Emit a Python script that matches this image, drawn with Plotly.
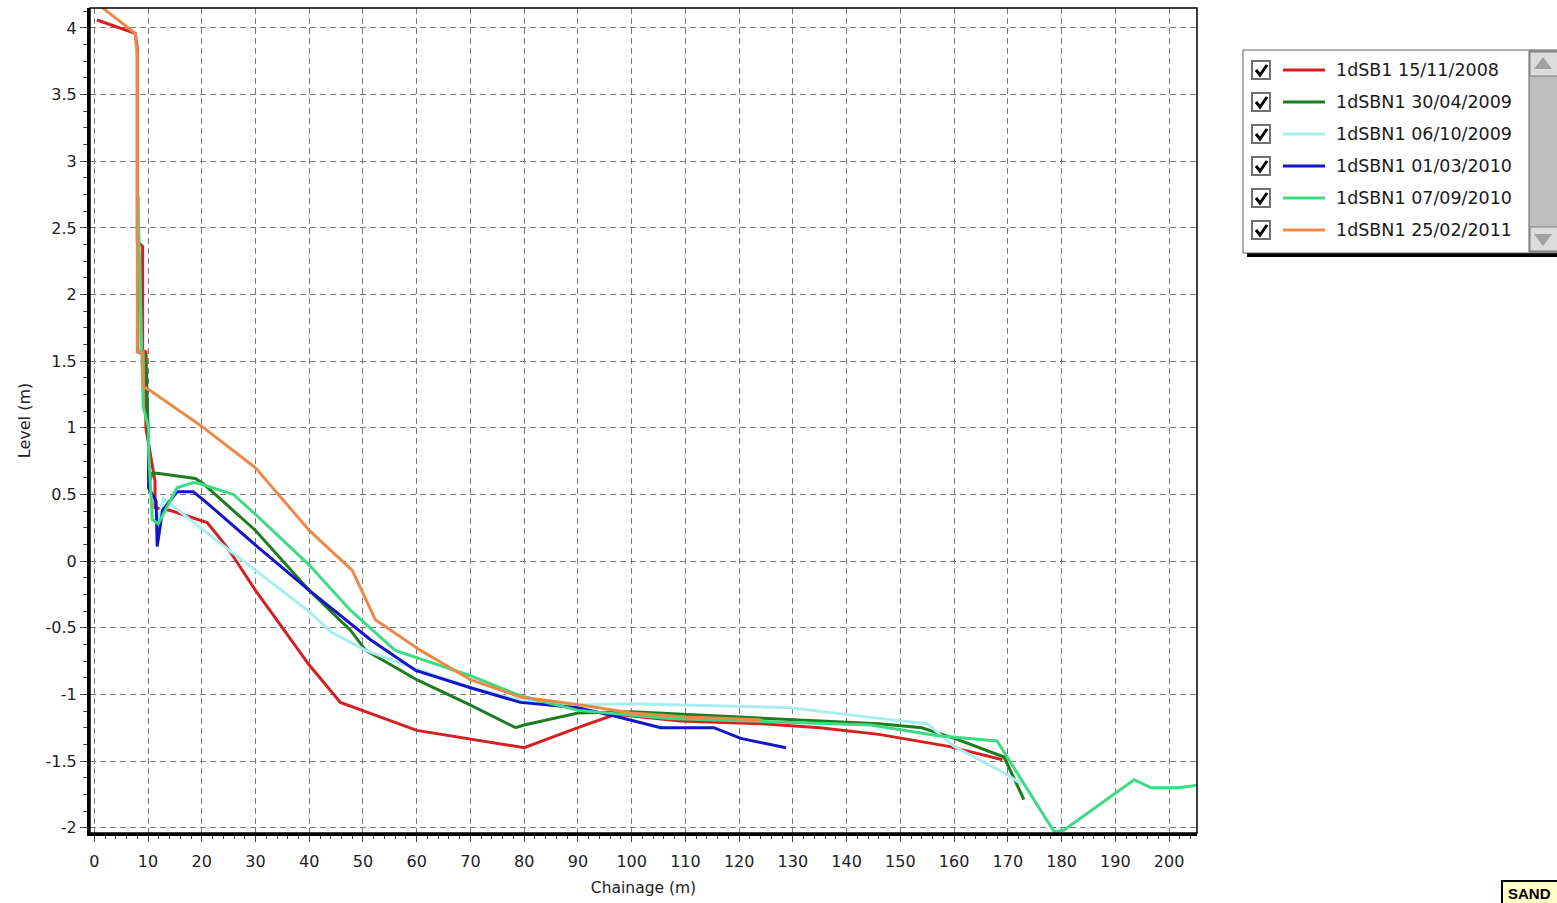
import plotly.graph_objects as go

# ---------------- data ----------------
series_names = ["1dSB1 15/11/2008", "1dSBN1 30/04/2009", "1dSBN1 06/10/2009",
                "1dSBN1 01/03/2010", "1dSBN1 07/09/2010", "1dSBN1 25/02/2011"]
series_colors = ["#d42020", "#1e7d1e", "#a8eeee", "#1414c8", "#3ddc84", "#ee8848"]

red_x = [0.5, 7.6, 8.0, 8.0, 9.0, 9.0, 9.6, 9.6, 11.3, 11.3, 14.2, 21.0, 24.8, 30.0, 40.0, 45.8, 60.0,
         80.0, 90.0, 97.0, 109.0, 124.0, 135.0, 146.0, 159.0, 169.0]
red_y = [4.06, 3.96, 3.85, 2.40, 2.36, 1.58, 1.57, 1.00, 0.60, 0.40, 0.38, 0.29, 0.10, -0.22, -0.78,
         -1.06, -1.27, -1.40, -1.25, -1.15, -1.20, -1.22, -1.25, -1.30, -1.39, -1.49]

dg_x = [8.1, 8.1, 9.6, 10.3, 10.8, 11.7, 18.8, 20.3, 30.0, 40.0, 47.7, 50.5, 60.0, 70.0, 78.4, 80.0,
        90.0, 100.0, 120.0, 146.0, 154.0, 160.7, 169.3, 173.0]
dg_y = [2.75, 1.57, 1.55, 0.60, 0.66, 0.66, 0.62, 0.58, 0.23, -0.22, -0.52, -0.67, -0.89, -1.08, -1.25,
        -1.23, -1.14, -1.13, -1.17, -1.22, -1.25, -1.34, -1.47, -1.79]

cy_x = [11.8, 12.9, 21.0, 30.0, 40.0, 44.0, 50.5, 60.7, 70.0, 79.0, 90.0, 100.0, 129.6, 146.0, 155.0,
        160.0, 169.3, 172.5]
cy_y = [0.30, 0.47, 0.21, -0.07, -0.38, -0.53, -0.67, -0.82, -0.95, -1.04, -1.08, -1.07, -1.10, -1.18,
        -1.22, -1.39, -1.59, -1.67]

bl_x = [10.1, 10.1, 11.5, 11.7, 12.7, 15.4, 18.4, 20.3, 30.0, 40.0, 51.4, 59.8, 70.0, 79.3, 90.0, 96.6,
        105.4, 115.3, 120.3, 128.7]
bl_y = [0.80, 0.55, 0.45, 0.11, 0.38, 0.52, 0.52, 0.46, 0.12, -0.22, -0.59, -0.82, -0.95, -1.06, -1.10,
        -1.16, -1.25, -1.25, -1.33, -1.40]

mg_x = [8.1, 9.1, 9.1, 10.1, 10.1, 10.8, 11.9, 13.6, 15.4, 18.4, 19.7, 25.9, 30.0, 40.0, 47.7, 56.0,
        70.0, 79.3, 90.0, 107.0, 144.5, 157.0, 168.0, 178.6, 180.4, 193.5, 196.6, 201.7, 205.5]
mg_y = [2.75, 1.31, 1.16, 1.00, 0.83, 0.31, 0.28, 0.41, 0.55, 0.59, 0.58, 0.50, 0.35, -0.03, -0.37,
        -0.67, -0.86, -1.01, -1.12, -1.18, -1.23, -1.31, -1.35, -2.03, -2.02, -1.64, -1.70, -1.70, -1.68]

or_x = [0.0, 7.6, 8.0, 8.0, 9.1, 9.1, 10.4, 19.7, 30.0, 40.0, 48.0, 52.3, 60.7, 70.0, 79.3, 90.5,
        100.0, 110.0, 124.0]
or_y = [4.20, 3.96, 3.80, 1.57, 1.57, 1.31, 1.28, 1.02, 0.70, 0.23, -0.07, -0.44, -0.67, -0.89, -1.02,
        -1.08, -1.14, -1.17, -1.19]

x_ticks = list(range(0, 201, 10))
y_ticks = [-2, -1.5, -1, -0.5, 0, 0.5, 1, 1.5, 2, 2.5, 3, 3.5, 4]

all_x = [red_x, dg_x, cy_x, bl_x, mg_x, or_x]
all_y = [red_y, dg_y, cy_y, bl_y, mg_y, or_y]

# ---------------- layout geometry (pixels) ----------------
W, H = 1557, 903
L, R, T, B = 90, 1197, 8, 833
FONT = "DejaVu Sans, Verdana, sans-serif"
BOLD = "Liberation Sans, Arial, sans-serif"


def px(x):
    return (x - L) / (R - L)


def py(y):
    return (B - y) / (B - T)


fig = go.Figure()
for xs, ys, name, col in zip(all_x, all_y, series_names, series_colors):
    fig.add_trace(go.Scatter(x=xs, y=ys, mode="lines", name=name,
                             line=dict(color=col, width=3), showlegend=False))

grid = dict(showgrid=True, gridcolor="#7a7a7a", gridwidth=1, griddash="6px,4px")
fig.update_xaxes(range=[-0.8, 205.2], tickvals=x_ticks, ticktext=[str(v) for v in x_ticks],
                 ticks="outside", ticklen=6, tickcolor="#444", zeroline=False,
                 showline=True, linecolor="black", linewidth=3, ticklabelstandoff=6,
                 minor=dict(dtick=2, ticks="outside", ticklen=3, tickcolor="#444", showgrid=False),
                 title=dict(text="Chainage (m)", font=dict(size=15.5, color="#222", family=FONT), standoff=12),
                 tickfont=dict(size=16, color="#222", family=FONT), **grid)
fig.update_yaxes(range=[-2.04, 4.15], tickvals=y_ticks, ticktext=[f"{v:g}" for v in y_ticks],
                 ticks="outside", ticklen=7, tickcolor="#444", zeroline=False,
                 showline=True, linecolor="black", linewidth=3,
                 minor=dict(dtick=0.125, ticks="outside", ticklen=4, tickcolor="#444", showgrid=False),
                 title=dict(text="Level (m)", font=dict(size=16, color="#222", family=FONT), standoff=11),
                 tickfont=dict(size=16, color="#222", family=FONT), **grid)

shapes = []
annotations = []
# thin frame around plot
shapes.append(dict(type="rect", xref="paper", yref="paper", x0=0, x1=1, y0=0, y1=1,
                   line=dict(color="black", width=1.5), layer="above"))

# legend box (custom, drawn to mimic the reference widget)
lx0, lx1, ly0, ly1 = 1243, 1565, 50, 253
shapes.append(dict(type="rect", xref="paper", yref="paper", x0=px(lx0 + 4), x1=px(lx1 + 4),
                   y0=py(ly1 + 4), y1=py(ly0 + 4), fillcolor="black", line=dict(width=0)))
shapes.append(dict(type="rect", xref="paper", yref="paper", x0=px(lx0), x1=px(lx1),
                   y0=py(ly1), y1=py(ly0), fillcolor="white", line=dict(color="#606060", width=1)))
# scrollbar
sx0 = 1529
shapes.append(dict(type="rect", xref="paper", yref="paper", x0=px(sx0), x1=px(lx1),
                   y0=py(ly1 - 1), y1=py(ly0 + 1), fillcolor="#bdbdbd", line=dict(color="#606060", width=1)))
for (b0, b1, up) in [(ly0 + 2, ly0 + 26, True), (ly1 - 26, ly1 - 2, False)]:
    shapes.append(dict(type="rect", xref="paper", yref="paper", x0=px(sx0 + 1), x1=px(lx1),
                       y0=py(b1), y1=py(b0), fillcolor="#dcdcdc", line=dict(color="#808080", width=1)))
    cx = sx0 + 14
    if up:
        path = f"M {px(cx-9)},{py(b1-7)} L {px(cx+9)},{py(b1-7)} L {px(cx)},{py(b0+5)} Z"
    else:
        path = f"M {px(cx-9)},{py(b0+7)} L {px(cx+9)},{py(b0+7)} L {px(cx)},{py(b1-5)} Z"
    shapes.append(dict(type="path", xref="paper", yref="paper", path=path,
                       fillcolor="#a0a0a0", line=dict(width=0)))

row_y = [70, 102, 134, 166, 198, 230]
for yy, name, col in zip(row_y, series_names, series_colors):
    # checkbox
    shapes.append(dict(type="rect", xref="paper", yref="paper", x0=px(1252), x1=px(1270),
                       y0=py(yy + 9), y1=py(yy - 9), fillcolor="white",
                       line=dict(color="#707070", width=2)))
    chk = f"M {px(1256)},{py(yy)} L {px(1260)},{py(yy+5)} L {px(1267)},{py(yy-5)}"
    shapes.append(dict(type="path", xref="paper", yref="paper", path=chk,
                       line=dict(color="black", width=3)))
    # legend line
    shapes.append(dict(type="line", xref="paper", yref="paper", x0=px(1283), x1=px(1325),
                       y0=py(yy), y1=py(yy), line=dict(color=col, width=3)))
    annotations.append(dict(xref="paper", yref="paper", x=px(1334), y=py(yy), text=name,
                            showarrow=False, xanchor="left", yanchor="middle",
                            font=dict(size=17.5, color="#1a1a1a", family=FONT)))

# "SAND" badge bottom right
shapes.append(dict(type="rect", xref="paper", yref="paper", x0=px(1502), x1=px(1570),
                   y0=py(905), y1=py(881), fillcolor="#ffffc8", line=dict(color="black", width=2)))
annotations.append(dict(xref="paper", yref="paper", x=px(1506), y=py(893), text="<b>SAND</b>",
                        showarrow=False, xanchor="left", yanchor="middle",
                        font=dict(size=15, color="black", family=BOLD)))

fig.update_layout(width=W, height=H, margin=dict(l=L, r=W - R, t=T, b=H - B),
                  plot_bgcolor="white", paper_bgcolor="white",
                  shapes=shapes, annotations=annotations, showlegend=False,
                  font=dict(family=FONT))

fig.write_html("out.html", config={"displayModeBar": False},
               post_script="document.body.style.margin='0';")
